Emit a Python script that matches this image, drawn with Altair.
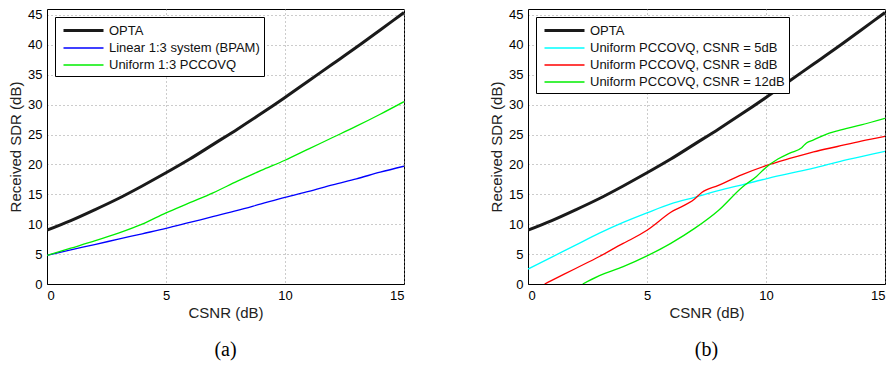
import altair as alt
import pandas as pd

# ---- data ----
csnr = list(range(16))
opta = [9.0, 10.6, 12.4, 14.3, 16.4, 18.6, 20.9, 23.4, 25.9, 28.5, 31.2, 34.0, 36.8, 39.6, 42.5, 45.4]
bpam = [4.8, 5.7, 6.6, 7.5, 8.4, 9.3, 10.3, 11.3, 12.3, 13.4, 14.5, 15.5, 16.6, 17.6, 18.7, 19.7]
pccovq = [4.8, 6.0, 7.2, 8.5, 10.0, 11.9, 13.6, 15.3, 17.2, 19.0, 20.7, 22.6, 24.5, 26.4, 28.4, 30.5]

x5 = list(range(16))
y5 = [2.5, 4.5, 6.5, 8.5, 10.3, 11.9, 13.4, 14.5, 15.6, 16.6, 17.6, 18.5, 19.4, 20.4, 21.3, 22.2]
x8 = [0.7, 1, 2, 3, 4, 4.3, 5, 6, 7, 7.3, 8, 9, 10, 11, 12, 13, 14, 15]
y8 = [0.0, 0.6, 2.6, 4.6, 6.8, 7.4, 9.0, 12.0, 14.2, 15.3, 16.5, 18.3, 19.8, 21.0, 22.1, 23.0, 23.9, 24.7]
x12 = [2.3, 3, 4, 5, 6, 7, 8, 9, 9.6, 10, 10.5, 11, 11.5, 11.7, 12, 12.5, 13, 14, 15]
y12 = [0.0, 1.4, 2.9, 4.7, 6.8, 9.3, 12.3, 16.2, 18.0, 19.5, 20.9, 21.9, 22.8, 23.6, 24.1, 25.0, 25.6, 26.6, 27.7]

names_a = ["OPTA", "Linear 1:3 system (BPAM)", "Uniform 1:3 PCCOVQ"]
colors_a = ["#1a1a1a", "#0000ff", "#00ee00"]
names_b = ["OPTA", "Uniform PCCOVQ, CSNR = 5dB", "Uniform PCCOVQ, CSNR = 8dB", "Uniform PCCOVQ, CSNR = 12dB"]
colors_b = ["#1a1a1a", "#00ffff", "#ff0000", "#00ee00"]

x_ticks = [0, 5, 10, 15]
y_ticks = [0, 5, 10, 15, 20, 25, 30, 35, 40, 45]

def frame(series):
    rows = []
    for name, xs, ys in series:
        for i, (a, b) in enumerate(zip(xs, ys)):
            rows.append({"csnr": a, "sdr": b, "series": name, "order": i})
    return pd.DataFrame(rows)

df_a = frame([(names_a[0], csnr, opta), (names_a[1], csnr, bpam), (names_a[2], csnr, pccovq)])
df_b = frame([(names_b[0], csnr, opta), (names_b[1], x5, y5), (names_b[2], x8, y8), (names_b[3], x12, y12)])

FONT = "Liberation Sans"

def legend():
    return alt.Legend(
        title=None, orient="top-left", offset=8, fillColor="white", strokeColor="black",
        padding=4, rowPadding=1, symbolType="M-2.5,0H2.5", symbolSize=256,
        symbolOffset=15, labelOffset=16, labelLimit=400,
        labelFont=FONT, labelFontSize=13, labelColor="#111",
    )

def panel(df, names, colors, caption):
    widths = [3] + [1.3] * (len(names) - 1)
    return alt.Chart(df).mark_line(clip=True, interpolate="monotone").encode(
        x=alt.X("csnr:Q", scale=alt.Scale(domain=[0, 15], nice=False),
                axis=alt.Axis(values=x_ticks, title="CSNR (dB)", format="d")),
        y=alt.Y("sdr:Q", scale=alt.Scale(domain=[0, 46], nice=False),
                axis=alt.Axis(values=y_ticks, title="Received SDR (dB)", format="d")),
        color=alt.Color("series:N", scale=alt.Scale(domain=names, range=colors),
                        legend=legend()),
        strokeWidth=alt.StrokeWidth("series:N",
                                    scale=alt.Scale(type="ordinal", domain=names, range=widths),
                                    legend=legend()),
        order="order:Q",
    ).properties(
        width=357, height=275,
        title=alt.TitleParams(caption, orient="bottom", font="Liberation Serif",
                              fontSize=20, fontWeight="normal", offset=20),
    )

chart = alt.hconcat(
    panel(df_a, names_a, colors_a, "(a)"),
    panel(df_b, names_b, colors_b, "(b)"),
    spacing=84,
).resolve_scale(color="independent", strokeWidth="independent").properties(
    background="white", padding={"left": 0, "top": 0, "right": 0, "bottom": 0}
).configure_view(
    stroke="black", strokeWidth=1
).configure_axis(
    labelFont=FONT, titleFont=FONT, labelFontSize=13, titleFontSize=15,
    labelColor="black", titleColor="#222", titleFontWeight="normal",
    domainColor="black", ticks=False, labelPadding=5,
    grid=True, gridColor="#999", gridDash=[1, 3], gridWidth=1,
).configure_axisY(titlePadding=4).configure_axisX(titlePadding=3)

chart.save("out.html", embed_options={"renderer": "svg", "actions": False})
